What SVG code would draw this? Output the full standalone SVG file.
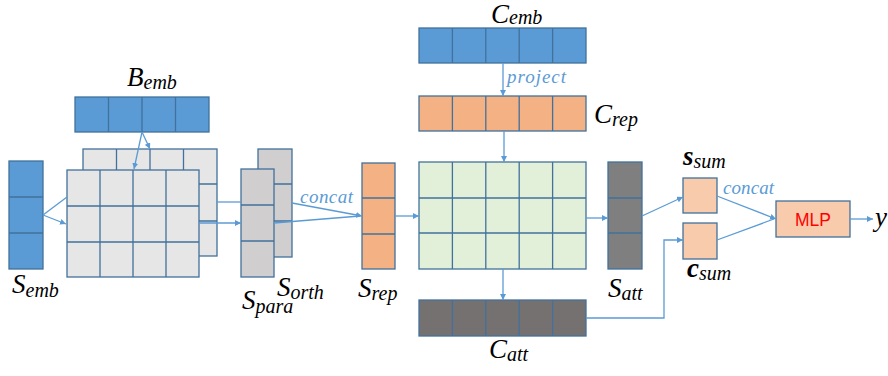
<svg xmlns="http://www.w3.org/2000/svg" width="888" height="376" viewBox="0 0 888 376">
<defs>
<marker id="ah" viewBox="0 0 10 10" refX="10" refY="5" markerWidth="6" markerHeight="6" orient="auto" markerUnits="userSpaceOnUse">
<path d="M0,0 L10,5 L0,10 z" fill="#5B9BD5"/>
</marker>
<style>
.cell{stroke:#41719C;stroke-width:1.3}
.div{stroke:#41719C;stroke-width:1.3;fill:none}
.blue{fill:#5B9BD5}
.gray{fill:#E7E6E6}
.para{fill:#D0CECE}
.orange{fill:#F4B183}
.green{fill:#E2F0D9}
.dark{fill:#7F7F7F}
.dark2{fill:#767171}
.peach{fill:#F8CBAD}
.conn{stroke:#5B9BD5;stroke-width:1.3;fill:none}
.math{font-family:"Liberation Serif",serif;font-style:italic;font-size:27px;fill:#000}
.sub{font-size:20px}
.lbl{font-family:"Liberation Serif",serif;font-style:italic;font-size:19px;fill:#5B9BD5}
.mlp{font-family:"Liberation Sans",Arial,sans-serif;font-size:19px;fill:#FF0000}
</style>
</defs>
<rect width="888" height="376" fill="#FFFFFF"/>

<g id="B_emb">
<rect class="cell blue" x="75" y="97" width="134" height="35"/>
<path class="div" d="M108.5,97V132M142,97V132M175.5,97V132"/>
<text class="math" x="127" y="86">B<tspan class="sub" dy="3">emb</tspan></text>
</g>

<g id="S_emb">
<rect class="cell blue" x="9" y="161" width="34" height="108"/>
<path class="div" d="M9,197H43M9,233H43"/>
<text class="math" x="12" y="293">S<tspan class="sub" dy="4">emb</tspan></text>
</g>

<g id="grid_back">
<rect class="cell gray" x="83" y="149" width="134" height="107"/>
<path class="div" d="M116.5,149V256M150,149V256M183.5,149V256M83,184H217M83,221H217"/>
</g>

<g id="grid_front">
<rect class="cell gray" x="67" y="170" width="132" height="107"/>
<path class="div" d="M100,170V277M133,170V277M166,170V277M67,206H199M67,242H199"/>
</g>

<g id="S_orth">
<rect class="cell para" x="258" y="149" width="34" height="108"/>
<path class="div" d="M258,184H292M258,221H292"/>
<text class="math" x="277" y="296">S<tspan class="sub" dy="3">orth</tspan></text>
</g>

<g id="S_para">
<rect class="cell para" x="241" y="169" width="33" height="108"/>
<path class="div" d="M241,205H274M241,241H274"/>
<text class="math" x="242" y="309">S<tspan class="sub" dy="4">para</tspan></text>
</g>

<g id="S_rep">
<rect class="cell orange" x="362" y="163" width="33" height="106"/>
<path class="div" d="M362,198H395M362,234H395"/>
<text class="math" x="358" y="297">S<tspan class="sub" dy="3">rep</tspan></text>
</g>

<g id="C_emb">
<rect class="cell blue" x="419" y="28" width="167" height="35"/>
<path class="div" d="M452.4,28V63M485.8,28V63M519.2,28V63M552.6,28V63"/>
<text class="math" x="491" y="23">C<tspan class="sub" dy="1">emb</tspan></text>
</g>

<g id="C_rep">
<rect class="cell orange" x="419" y="96" width="167" height="35"/>
<path class="div" d="M452.4,96V131M485.8,96V131M519.2,96V131M552.6,96V131"/>
<text class="math" x="594" y="123">C<tspan class="sub" dy="3">rep</tspan></text>
</g>

<g id="att_matrix">
<rect class="cell green" x="419" y="162" width="167" height="107"/>
<path class="div" d="M452.4,162V269M485.8,162V269M519.2,162V269M552.6,162V269M419,198H586M419,233H586"/>
</g>

<g id="S_att">
<rect class="cell dark" x="608" y="162" width="34" height="107"/>
<path class="div" d="M608,198H642M608,233H642"/>
<text class="math" x="608" y="297">S<tspan class="sub" dy="3">att</tspan></text>
</g>

<g id="C_att">
<rect class="cell dark2" x="419" y="300" width="167" height="36"/>
<path class="div" d="M452.4,300V336M485.8,300V336M519.2,300V336M552.6,300V336"/>
<text class="math" x="489" y="358">C<tspan class="sub" dy="3">att</tspan></text>
</g>

<g id="s_sum">
<rect class="cell peach" x="683" y="178" width="34" height="35"/>
<text class="math" x="683" y="165" font-weight="bold">s<tspan class="sub" font-weight="normal" dy="3">sum</tspan></text>
</g>

<g id="c_sum">
<rect class="cell peach" x="683" y="223" width="34" height="36"/>
<text class="math" x="687" y="277" font-weight="bold">c<tspan class="sub" font-weight="normal" dy="3">sum</tspan></text>
</g>

<g id="MLP">
<rect class="cell peach" x="776" y="201" width="74" height="36"/>
<text class="mlp" x="795" y="226" textLength="36" lengthAdjust="spacingAndGlyphs">MLP</text>
</g>

<g id="y_out">
<text class="math" x="875" y="226">y</text>
</g>

<g id="connectors">
<line class="conn" x1="43" y1="215" x2="67" y2="197"/>
<line class="conn" x1="43" y1="215" x2="66" y2="224" marker-end="url(#ah)"/>
<line class="conn" x1="142" y1="132" x2="134" y2="169" marker-end="url(#ah)"/>
<line class="conn" x1="142" y1="132" x2="150" y2="149" marker-end="url(#ah)"/>
<line class="conn" x1="217" y1="202" x2="241" y2="202"/>
<line class="conn" x1="199" y1="223" x2="241" y2="223" marker-end="url(#ah)"/>
<line class="conn" x1="292" y1="203" x2="362" y2="216" marker-end="url(#ah)"/>
<line class="conn" x1="274" y1="223" x2="360" y2="216"/>
<line class="conn" x1="395" y1="216" x2="419" y2="216" marker-end="url(#ah)"/>
<line class="conn" x1="503" y1="63" x2="503" y2="96" marker-end="url(#ah)"/>
<line class="conn" x1="504" y1="131" x2="504" y2="162" marker-end="url(#ah)"/>
<line class="conn" x1="586" y1="218" x2="608" y2="218" marker-end="url(#ah)"/>
<line class="conn" x1="503" y1="269" x2="503" y2="300" marker-end="url(#ah)"/>
<line class="conn" x1="642" y1="216" x2="683" y2="197" marker-end="url(#ah)"/>
<polyline class="conn" points="586,318 664,318 664,240 683,240" marker-end="url(#ah)"/>
<line class="conn" x1="717" y1="196" x2="776" y2="219" marker-end="url(#ah)"/>
<line class="conn" x1="717" y1="240" x2="774" y2="219"/>
<line class="conn" x1="850" y1="219" x2="873" y2="219" marker-end="url(#ah)"/>
<text class="lbl" x="300" y="203" textLength="53">concat</text>
<text class="lbl" x="507" y="83" textLength="59">project</text>
<text class="lbl" x="723" y="194" textLength="51">concat</text>
</g>
</svg>
